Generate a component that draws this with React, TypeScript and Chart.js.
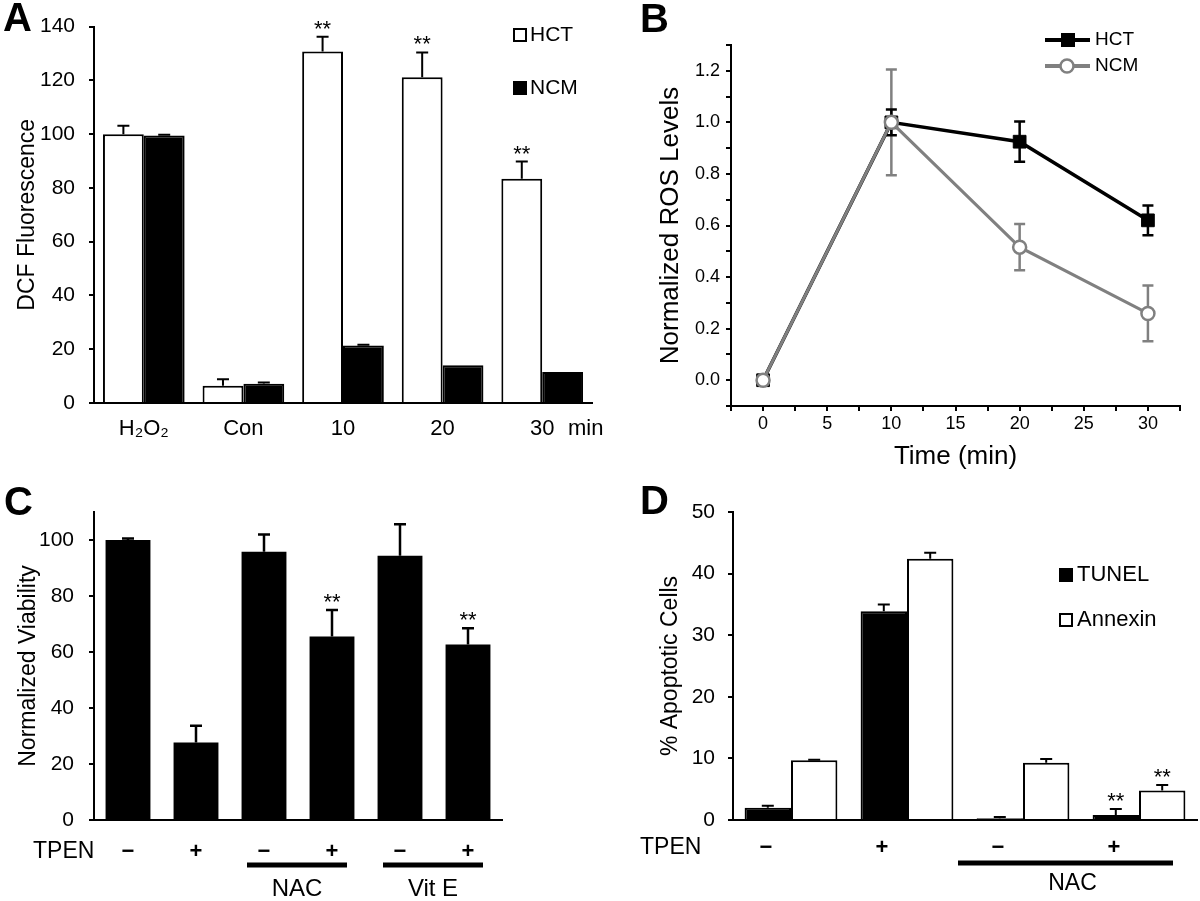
import React, { useEffect, useRef } from 'react';
import { Chart, registerables } from 'chart.js';

Chart.register(...registerables);

const FONT = '"Liberation Sans", Arial, Helvetica, sans-serif';
Chart.defaults.font.family = FONT;
Chart.defaults.color = '#000';

// ---------- Panel A: DCF fluorescence ----------
const aCategories = ['H₂O₂', 'Con', '10', '20', '30'];
const aHCT = [100, 6.4, 130.7, 121.2, 83.4];
const aHCTErr = [3.1, 2.4, 5.5, 9.2, 6.4];
const aNCM = [99.5, 7.2, 21.4, 14.0, 11.5];
const aNCMErr = [0.3, 0.4, 0.3, 0, 0];
const aHCTSig = ['', '', '**', '**', '**'];

// ---------- Panel B: normalized ROS ----------
const bTimes = [0, 10, 20, 30];
const bHCT = [0, 1.0, 0.925, 0.62];
const bHCTErr = [0, 0.05, 0.078, 0.058];
const bNCM = [0, 1.0, 0.516, 0.259];
const bNCMErr = [0, 0.205, 0.09, 0.108];

// ---------- Panel C: viability ----------
const cTPEN = ['−', '+', '−', '+', '−', '+'];
const cViability = [100, 27.7, 95.8, 65.5, 94.4, 62.7];
const cErr = [0.5, 6.0, 6.2, 9.5, 11.2, 5.8];
const cSig = ['', '', '', '**', '', '**'];
const cGroupLabels = ['NAC', 'Vit E'];
const cGroupFrom = [2, 4];
const cGroupTo = [3, 5];

// ---------- Panel D: apoptosis ----------
const dTPEN = ['−', '+', '−', '+'];
const dTUNEL = [2.0, 33.9, 0.3, 0.8];
const dTUNELErr = [0.3, 1.1, 0.2, 1.0];
const dAnnexin = [9.7, 42.4, 9.3, 4.8];
const dAnnexinErr = [0.1, 1.0, 0.6, 0.9];
const dTUNELSig = ['', '', '', '**'];
const dAnnexinSig = ['', '', '', '**'];
const dGroupLabel = 'NAC';

function txt(ctx: CanvasRenderingContext2D, s: string, x: number, y: number, size: number, o: any = {}) {
  ctx.save();
  ctx.font = `${o.bold ? 'bold ' : ''}${size}px ${FONT}`;
  ctx.fillStyle = o.color || '#000';
  ctx.textAlign = o.align || 'left';
  ctx.textBaseline = o.baseline || 'middle';
  ctx.fillText(s, x, y);
  ctx.restore();
}

function square(ctx: CanvasRenderingContext2D, x: number, y: number, s: number, fill: string) {
  ctx.save();
  ctx.fillStyle = fill;
  ctx.fillRect(x, y, s, s);
  ctx.strokeStyle = '#000';
  ctx.lineWidth = 2;
  ctx.strokeRect(x + 1, y + 1, s - 2, s - 2);
  ctx.restore();
}

function hline(ctx: CanvasRenderingContext2D, x1: number, x2: number, y: number, w: number, color = '#000') {
  ctx.save();
  ctx.strokeStyle = color;
  ctx.lineWidth = w;
  ctx.beginPath();
  ctx.moveTo(x1, y);
  ctx.lineTo(x2, y);
  ctx.stroke();
  ctx.restore();
}

function drawErrors(chart: any, before: boolean) {
  const ctx = chart.ctx;
  chart.data.datasets.forEach((ds: any, i: number) => {
    if (!ds.errors || !!ds.errBefore !== before) return;
    const meta = chart.getDatasetMeta(i);
    const yScale = chart.scales[meta.yAxisID];
    ctx.save();
    ctx.strokeStyle = ds.errColor || '#000';
    ctx.lineWidth = ds.errWidth || 2;
    meta.data.forEach((el: any, j: number) => {
      const e = ds.errors[j];
      if (!e) return;
      const raw = ds.data[j];
      const v = typeof raw === 'number' ? raw : raw.y;
      const x = el.x;
      const yTop = yScale.getPixelForValue(v + e);
      const yBot = yScale.getPixelForValue(ds.errBoth ? v - e : v);
      const cap = (ds.errCap || 10) / 2;
      ctx.beginPath();
      ctx.moveTo(x, yBot);
      ctx.lineTo(x, yTop);
      ctx.moveTo(x - cap, yTop);
      ctx.lineTo(x + cap, yTop);
      if (ds.errBoth) {
        ctx.moveTo(x - cap, yBot);
        ctx.lineTo(x + cap, yBot);
      }
      ctx.stroke();
    });
    ctx.restore();
  });
}

const errorBars = {
  id: 'errorBars',
  beforeDatasetsDraw(chart: any) { drawErrors(chart, true); },
  afterDatasetsDraw(chart: any) { drawErrors(chart, false); },
};

function sigMarks(chart: any, dsIndex: number, marks: string[]) {
  const ds = chart.data.datasets[dsIndex];
  const meta = chart.getDatasetMeta(dsIndex);
  const y = chart.scales.y;
  marks.forEach((m, j) => {
    if (!m) return;
    const el: any = meta.data[j];
    const top = y.getPixelForValue(ds.data[j] + (ds.errors ? ds.errors[j] : 0));
    txt(chart.ctx, m, el.x, top - 1, 22, { align: 'center', baseline: 'alphabetic' });
  });
}

const axisBase = (extra: any = {}) => ({
  grid: { display: true, drawOnChartArea: false, drawTicks: true, tickLength: 5, color: '#000', lineWidth: 2 },
  border: { display: true, color: '#000', width: 2 },
  ...extra,
});

function configA(): any {
  return {
    type: 'bar',
    data: {
      labels: aCategories,
      datasets: [
        { label: 'HCT', data: aHCT, backgroundColor: '#fff', borderColor: '#000', borderWidth: 2, errors: aHCTErr, errWidth: 2, errCap: 12 },
        { label: 'NCM', data: aNCM, backgroundColor: '#000', borderColor: '#000', borderWidth: 2, errors: aNCMErr, errWidth: 2, errCap: 12 },
      ],
    },
    options: {
      responsive: false, animation: false, devicePixelRatio: 1,
      layout: { padding: { left: 0, top: 23, right: 608, bottom: 438 } },
      datasets: { bar: { categoryPercentage: 0.82, barPercentage: 1 } },
      plugins: { legend: { display: false }, tooltip: { enabled: false } },
      scales: {
        x: {
          grid: { display: true, drawOnChartArea: false, drawTicks: false },
          border: { display: true, color: '#000', width: 2 },
          ticks: { font: { size: 22 }, padding: 13, maxRotation: 0, autoSkip: false },
          afterFit: (s: any) => { s.height = 60; },
        },
        y: axisBase({
          min: 0, max: 140,
          ticks: { stepSize: 20, font: { size: 21 }, padding: 14 },
          title: { display: true, text: 'DCF Fluorescence', font: { size: 23 }, padding: { top: 14, bottom: 0 } },
          afterFit: (s: any) => { s.width = 94; },
        }),
      },
    },
    plugins: [errorBars, {
      id: 'annotA',
      afterDraw(chart: any) {
        const ctx = chart.ctx;
        txt(ctx, 'A', 3, 31, 40, { bold: true, baseline: 'alphabetic' });
        square(ctx, 513, 28, 14, '#fff');
        txt(ctx, 'HCT', 530, 35, 21);
        square(ctx, 513, 81, 14, '#000');
        txt(ctx, 'NCM', 530, 88, 21);
        const xs = chart.scales.x;
        txt(ctx, 'min', 568, xs.top + 13 + 22 * 1.2 / 2, 22);
        sigMarks(chart, 0, aHCTSig);
      },
    }],
  };
}

function configB(): any {
  return {
    type: 'line',
    data: {
      datasets: [
        {
          label: 'NCM', data: bTimes.map((t, i) => ({ x: t, y: bNCM[i] })), order: 0,
          borderColor: '#808080', borderWidth: 3, pointStyle: 'circle', pointRadius: 6.5,
          pointBackgroundColor: '#fff', pointBorderColor: '#808080', pointBorderWidth: 2.5,
          errors: bNCMErr, errBoth: true, errBefore: true, errColor: '#808080', errWidth: 2.5, errCap: 11,
        },
        {
          label: 'HCT', data: bTimes.map((t, i) => ({ x: t, y: bHCT[i] })), order: 1,
          borderColor: '#000', borderWidth: 3.5, pointStyle: 'rect', pointRadius: 9,
          pointBackgroundColor: '#000', pointBorderColor: '#000', pointBorderWidth: 1,
          errors: bHCTErr, errBoth: true, errBefore: true, errColor: '#000', errWidth: 2.5, errCap: 11,
        },
      ],
    },
    options: {
      responsive: false, animation: false, devicePixelRatio: 1,
      layout: { padding: { left: 640, top: 45, right: 20, bottom: 425 } },
      plugins: { legend: { display: false }, tooltip: { enabled: false } },
      scales: {
        x: axisBase({
          type: 'linear', min: -2.5, max: 32.5,
          ticks: {
            stepSize: 2.5, maxTicksLimit: 30, autoSkip: false, maxRotation: 0, font: { size: 18 }, padding: 2,
            callback: (v: number) => (v >= 0 && Math.abs(v % 5) < 1e-6 ? String(v) : ''),
          },
          title: { display: true, text: 'Time (min)', font: { size: 26 }, padding: { top: 0, bottom: 4 } },
          afterFit: (s: any) => { s.height = 70; },
        }),
        y: axisBase({
          min: -0.1, max: 1.3,
          ticks: {
            stepSize: 0.1, maxTicksLimit: 20, autoSkip: false, font: { size: 18 }, padding: 6,
            callback: (v: number) => {
              const k = Math.round(v * 10);
              return k >= 0 && k % 2 === 0 ? (k / 10).toFixed(1) : '';
            },
          },
          title: { display: true, text: 'Normalized ROS Levels', font: { size: 26 }, padding: { top: 15, bottom: 0 } },
          afterFit: (s: any) => { s.width = 91; },
        }),
      },
    },
    plugins: [errorBars, {
      id: 'annotB',
      afterDraw(chart: any) {
        const ctx = chart.ctx;
        txt(ctx, 'B', 640, 32, 40, { bold: true, baseline: 'alphabetic' });
        hline(ctx, 1045, 1090, 40, 4, '#000');
        ctx.save();
        ctx.fillStyle = '#000';
        ctx.fillRect(1061, 33, 14, 14);
        ctx.restore();
        txt(ctx, 'HCT', 1095, 40, 19);
        hline(ctx, 1045, 1090, 66, 4, '#808080');
        ctx.save();
        ctx.beginPath();
        ctx.arc(1067, 66, 6.5, 0, Math.PI * 2);
        ctx.fillStyle = '#fff';
        ctx.fill();
        ctx.lineWidth = 2.5;
        ctx.strokeStyle = '#808080';
        ctx.stroke();
        ctx.restore();
        txt(ctx, 'NCM', 1095, 66, 19);
      },
    }],
  };
}

function configC(): any {
  return {
    type: 'bar',
    data: {
      labels: cTPEN,
      datasets: [
        { label: 'Viability', data: cViability, backgroundColor: '#000', borderColor: '#000', borderWidth: 0, errors: cErr, errWidth: 2.5, errCap: 12 },
      ],
    },
    options: {
      responsive: false, animation: false, devicePixelRatio: 1,
      layout: { padding: { left: 0, top: 512, right: 698, bottom: 21 } },
      datasets: { bar: { categoryPercentage: 1, barPercentage: 0.66 } },
      plugins: { legend: { display: false }, tooltip: { enabled: false } },
      scales: {
        x: {
          grid: { display: true, drawOnChartArea: false, drawTicks: false },
          border: { display: true, color: '#000', width: 2 },
          ticks: { font: { size: 22, weight: 'bold' }, padding: 19, maxRotation: 0, autoSkip: false },
          afterFit: (s: any) => { s.height = 60; },
        },
        y: axisBase({
          min: 0, max: 110,
          ticks: { stepSize: 20, includeBounds: false, font: { size: 21 }, padding: 15 },
          title: { display: true, text: 'Normalized Viability', font: { size: 23 }, padding: { top: 15, bottom: 0 } },
          afterFit: (s: any) => { s.width = 94; },
        }),
      },
    },
    plugins: [errorBars, {
      id: 'annotC',
      afterDraw(chart: any) {
        const ctx = chart.ctx;
        txt(ctx, 'C', 4, 515, 40, { bold: true, baseline: 'alphabetic' });
        txt(ctx, 'TPEN', 33, 852, 23);
        sigMarks(chart, 0, cSig);
        const xs = chart.scales.x;
        cGroupLabels.forEach((lab, g) => {
          const x1 = xs.getPixelForValue(cGroupFrom[g]) - 17;
          const x2 = xs.getPixelForValue(cGroupTo[g]) + 15;
          hline(ctx, x1, x2, 865, 5);
          txt(ctx, lab, (x1 + x2) / 2, 889, 24, { align: 'center' });
        });
      },
    }],
  };
}

function configD(): any {
  return {
    type: 'bar',
    data: {
      labels: dTPEN,
      datasets: [
        { label: 'TUNEL', data: dTUNEL, backgroundColor: '#000', borderColor: '#000', borderWidth: 2, errors: dTUNELErr, errWidth: 2, errCap: 12 },
        { label: 'Annexin', data: dAnnexin, backgroundColor: '#fff', borderColor: '#000', borderWidth: 2, errors: dAnnexinErr, errWidth: 2, errCap: 12 },
      ],
    },
    options: {
      responsive: false, animation: false, devicePixelRatio: 1,
      layout: { padding: { left: 640, top: 512, right: 3, bottom: 21 } },
      datasets: { bar: { categoryPercentage: 0.8, barPercentage: 1 } },
      plugins: { legend: { display: false }, tooltip: { enabled: false } },
      scales: {
        x: {
          grid: { display: true, drawOnChartArea: false, drawTicks: false },
          border: { display: true, color: '#000', width: 2 },
          ticks: { font: { size: 22, weight: 'bold' }, padding: 15, labelOffset: -25, maxRotation: 0, autoSkip: false },
          afterFit: (s: any) => { s.height = 60; },
        },
        y: axisBase({
          min: 0, max: 50,
          ticks: { stepSize: 10, font: { size: 21 }, padding: 13 },
          title: { display: true, text: '% Apoptotic Cells', font: { size: 23 }, padding: { top: 17, bottom: 0 } },
          afterFit: (s: any) => { s.width = 93; },
        }),
      },
    },
    plugins: [errorBars, {
      id: 'annotD',
      afterDraw(chart: any) {
        const ctx = chart.ctx;
        txt(ctx, 'D', 640, 514, 40, { bold: true, baseline: 'alphabetic' });
        txt(ctx, 'TPEN', 640, 848, 23);
        square(ctx, 1059, 568, 14, '#000');
        txt(ctx, 'TUNEL', 1077, 575, 22);
        square(ctx, 1059, 613, 14, '#fff');
        txt(ctx, 'Annexin', 1077, 620, 22);
        sigMarks(chart, 0, dTUNELSig);
        sigMarks(chart, 1, dAnnexinSig);
        const xs = chart.scales.x;
        const x1 = xs.getPixelForValue(2) - 65;
        const x2 = xs.getPixelForValue(3) + 34;
        hline(ctx, x1, x2, 863, 5);
        txt(ctx, dGroupLabel, (x1 + x2) / 2 + 7, 884, 23, { align: 'center' });
      },
    }],
  };
}

export default function App() {
  const aRef = useRef<HTMLCanvasElement>(null);
  const bRef = useRef<HTMLCanvasElement>(null);
  const cRef = useRef<HTMLCanvasElement>(null);
  const dRef = useRef<HTMLCanvasElement>(null);

  useEffect(() => {
    const charts = [
      new Chart(aRef.current as HTMLCanvasElement, configA()),
      new Chart(bRef.current as HTMLCanvasElement, configB()),
      new Chart(cRef.current as HTMLCanvasElement, configC()),
      new Chart(dRef.current as HTMLCanvasElement, configD()),
    ];
    return () => charts.forEach((c) => c.destroy());
  }, []);

  const cs: React.CSSProperties = { position: 'absolute', left: 0, top: 0, width: 1200, height: 901 };
  return (
    <div style={{ position: 'fixed', left: 0, top: 0, width: 1200, height: 901, background: '#fff', overflow: 'hidden' }}>
      <canvas ref={aRef} width={1200} height={901} style={cs} />
      <canvas ref={bRef} width={1200} height={901} style={cs} />
      <canvas ref={cRef} width={1200} height={901} style={cs} />
      <canvas ref={dRef} width={1200} height={901} style={cs} />
    </div>
  );
}
